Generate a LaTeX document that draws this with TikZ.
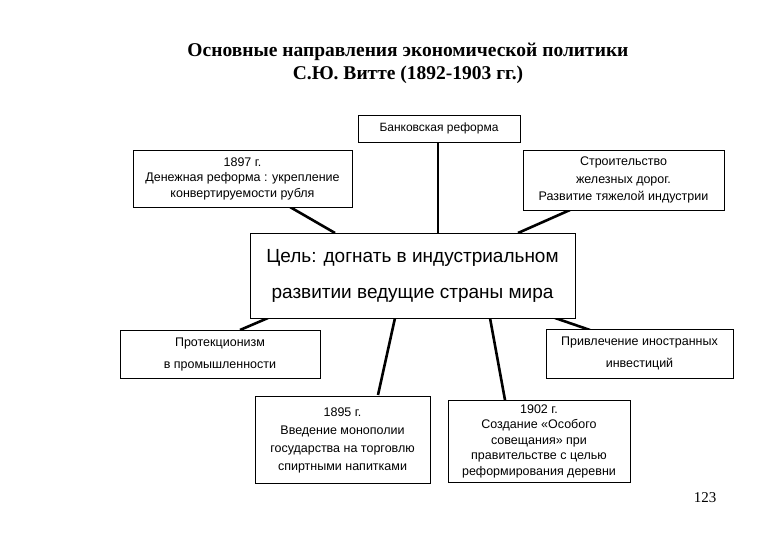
\documentclass[tikz,border=0pt]{standalone}
\usepackage{fontspec}
\setmainfont{Liberation Serif}
\setsansfont{Liberation Sans}
\begin{document}
\begin{tikzpicture}[x=1pt,y=-1pt,
 bx/.style={draw,line width=0.8pt,fill=white,align=center,inner sep=0},
 ln/.style={line width=2.6pt}]
\useasboundingbox (0,0) rectangle (780,540);
\node[font=\bfseries\fontsize{19.5}{23}\selectfont,align=center] (title) at (408,63) {Основные направления  экономической политики\\С.Ю. Витте (1892-1903 гг.)};
\draw[ln] (290,207) -- (335,233);
\draw[ln] (438,142) -- (438,233);
\draw[ln] (570,210) -- (518,233);
\draw[ln] (268,318) -- (240,330);
\draw[ln] (395,318) -- (378,395);
\draw[ln] (490,318) -- (505,400);
\draw[ln] (555,318) -- (590,330);
\node[bx,minimum width=162,minimum height=27,font=\sffamily\fontsize{12}{15}\selectfont] (bank) at (439,128.5) {Банковская реформа};
\node[bx,minimum width=219,minimum height=57,font=\sffamily\fontsize{12.5}{15.5}\selectfont] (money) at (242.5,178.5) {1897 г.\\Денежная реформа : укрепление\\конвертируемости рубля};
\node[bx,minimum width=201,minimum height=60,font=\sffamily\fontsize{12.5}{17.5}\selectfont] (rail) at (623.5,180) {Строительство\\железных дорог.\\Развитие тяжелой индустрии};
\node[bx,minimum width=325,minimum height=85,font=\sffamily\fontsize{19}{36}\selectfont] (goal) at (412.5,275.5) {Цель: догнать в индустриальном\\развитии ведущие страны мира};
\node[bx,minimum width=200,minimum height=48,font=\sffamily\fontsize{12.5}{22}\selectfont] (prot) at (220,354) {Протекционизм\\в промышленности};
\node[bx,minimum width=187,minimum height=49,font=\sffamily\fontsize{12.5}{22}\selectfont] (inv) at (639.5,353.5) {Привлечение иностранных\\инвестиций};
\node[bx,minimum width=175,minimum height=87,font=\sffamily\fontsize{12.5}{18}\selectfont] (mono) at (342.5,440) {1895 г.\\Введение монополии\\государства на торговлю\\спиртными напитками};
\node[bx,minimum width=182,minimum height=82,font=\sffamily\fontsize{12.5}{15.5}\selectfont] (osob) at (539,441) {1902 г.\\Создание «Особого\\совещания» при\\правительстве с целью\\реформирования деревни};
\node[font=\fontsize{15}{17}\selectfont] (pg) at (705,498) {123};
\end{tikzpicture}
\end{document}
